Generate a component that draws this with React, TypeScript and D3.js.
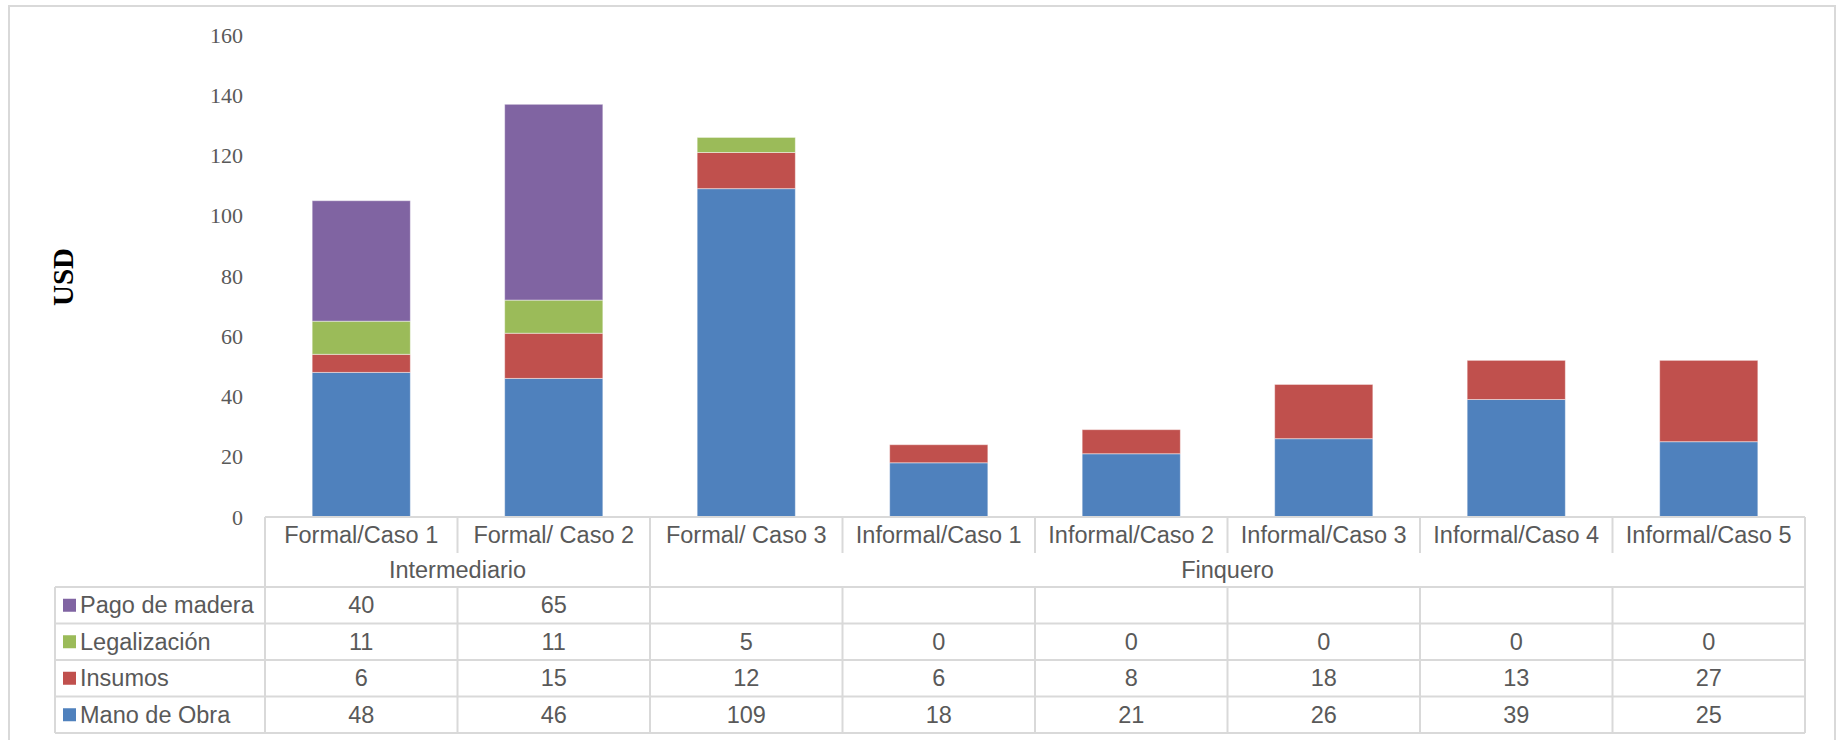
import { useEffect, useRef } from "react";
import * as d3 from "d3";

const CATEGORIES = [
  "Formal/Caso 1",
  "Formal/ Caso 2",
  "Formal/ Caso 3",
  "Informal/Caso 1",
  "Informal/Caso 2",
  "Informal/Caso 3",
  "Informal/Caso 4",
  "Informal/Caso 5",
];

// group label + number of categories it spans
const GROUPS: [string, number][] = [
  ["Intermediario", 2],
  ["Finquero", 6],
];

const MANO_DE_OBRA = [48, 46, 109, 18, 21, 26, 39, 25];
const INSUMOS = [6, 15, 12, 6, 8, 18, 13, 27];
const LEGALIZACION = [11, 11, 5, 0, 0, 0, 0, 0];
const PAGO_MADERA: (number | null)[] = [40, 65, null, null, null, null, null, null];

const Y_TICKS = [0, 20, 40, 60, 80, 100, 120, 140, 160];

// stacking order bottom -> top
const SERIES = [
  { name: "Mano de Obra", values: MANO_DE_OBRA, color: "#4f81bd" },
  { name: "Insumos", values: INSUMOS, color: "#c0504d" },
  { name: "Legalización", values: LEGALIZACION, color: "#9bbb59" },
  { name: "Pago de madera", values: PAGO_MADERA, color: "#8064a2" },
];

const W = 1839;
const H = 740;

export default function App() {
  const svgRef = useRef<SVGSVGElement | null>(null);

  useEffect(() => {
    const svg = svgRef.current;
    if (!svg) return;
    svg.innerHTML = "";
    const root = d3.select(svg).attr("width", W).attr("height", H);

    const GRID = "#d9d9d9";
    const TEXT = "#595959";
    const SANS = "'Liberation Sans', Arial, sans-serif";
    const SERIF = "'Liberation Serif', 'Times New Roman', serif";

    // chart frame
    root.append("rect")
      .attr("x", 9).attr("y", 6)
      .attr("width", 1826).attr("height", 780)
      .attr("fill", "#fff")
      .attr("stroke", GRID).attr("stroke-width", 2);

    const plotLeft = 265, plotRight = 1805;
    const x = d3.scaleBand<string>()
      .domain(CATEGORIES)
      .range([plotLeft, plotRight])
      .padding(0);

    const y = d3.scaleLinear().domain([0, 160]).range([517, 35]);

    // y tick labels
    root.append("g")
      .selectAll("text")
      .data(Y_TICKS)
      .join("text")
      .attr("x", 243)
      .attr("y", (d) => y(d))
      .attr("text-anchor", "end")
      .attr("dominant-baseline", "central")
      .attr("fill", TEXT)
      .style("font-family", SERIF)
      .style("font-size", "22px")
      .text((d) => d);

    // y title
    root.append("text")
      .attr("transform", `translate(63,277) rotate(-90)`)
      .attr("text-anchor", "middle")
      .attr("dominant-baseline", "central")
      .attr("fill", "#000")
      .style("font-family", SERIF)
      .style("font-size", "29px")
      .style("font-weight", "bold")
      .text("USD");

    // stacked bars
    const rows = CATEGORIES.map((c, i) => {
      const r: Record<string, number | string> = { cat: c };
      SERIES.forEach((s) => (r[s.name] = s.values[i] ?? 0));
      return r;
    });
    const stack = d3.stack<Record<string, number | string>>()
      .keys(SERIES.map((s) => s.name))
      .value((d, k) => d[k] as number);
    const layers = stack(rows);
    const barW = x.bandwidth() * 0.51;

    layers.forEach((layer, li) => {
      root.append("g")
        .selectAll("rect")
        .data(layer.filter((d) => d[1] - d[0] > 0))
        .join("rect")
        .attr("x", (d) => x(d.data.cat as string)! + (x.bandwidth() - barW) / 2)
        .attr("width", barW)
        .attr("y", (d) => y(d[1]))
        .attr("height", (d) => y(d[0]) - y(d[1]))
        .attr("fill", SERIES[li].color)
        .attr("stroke", "#fff")
        .attr("stroke-opacity", 0.45)
        .attr("stroke-width", 1);
    });

    // data table
    const catTop = 517, catBot = 553, grpBot = 587;
    const rowH = 36.5;
    const tableLeft = 55;
    const tableRows = [...SERIES].reverse();
    const tableBot = grpBot + rowH * tableRows.length;
    const lines = root.append("g")
      .attr("stroke", GRID).attr("stroke-width", 2).attr("fill", "none");

    const bounds = CATEGORIES.map((c) => x(c)!).concat([plotRight]);

    // category row
    lines.append("line").attr("x1", plotLeft).attr("x2", plotRight)
      .attr("y1", catTop).attr("y2", catTop);
    bounds.forEach((bx) => {
      lines.append("line").attr("x1", bx).attr("x2", bx)
        .attr("y1", catTop).attr("y2", catBot);
    });

    // group row
    let gi = 0;
    const groupBounds = [plotLeft];
    GROUPS.forEach(([, n]) => {
      gi += n;
      groupBounds.push(bounds[gi]);
    });
    groupBounds.forEach((bx) => {
      lines.append("line").attr("x1", bx).attr("x2", bx)
        .attr("y1", catBot).attr("y2", grpBot);
    });

    // value rows
    for (let r = 0; r <= tableRows.length; r++) {
      const yy = grpBot + r * rowH;
      lines.append("line").attr("x1", tableLeft).attr("x2", plotRight)
        .attr("y1", yy).attr("y2", yy);
    }
    [tableLeft, ...bounds].forEach((bx) => {
      lines.append("line").attr("x1", bx).attr("x2", bx)
        .attr("y1", grpBot).attr("y2", tableBot);
    });

    const txt = root.append("g")
      .attr("fill", TEXT)
      .style("font-family", SANS)
      .style("font-size", "23.5px");

    CATEGORIES.forEach((c) => {
      txt.append("text")
        .attr("x", x(c)! + x.bandwidth() / 2)
        .attr("y", (catTop + catBot) / 2)
        .attr("text-anchor", "middle")
        .attr("dominant-baseline", "central")
        .text(c);
    });

    GROUPS.forEach(([g], i) => {
      txt.append("text")
        .attr("x", (groupBounds[i] + groupBounds[i + 1]) / 2)
        .attr("y", (catBot + grpBot) / 2)
        .attr("text-anchor", "middle")
        .attr("dominant-baseline", "central")
        .text(g);
    });

    tableRows.forEach((s, r) => {
      const cy = grpBot + r * rowH + rowH / 2;
      root.append("rect")
        .attr("x", 63).attr("y", cy - 6.5)
        .attr("width", 13).attr("height", 13)
        .attr("fill", s.color);
      txt.append("text")
        .attr("x", 80).attr("y", cy)
        .attr("dominant-baseline", "central")
        .text(s.name);
      s.values.forEach((v, i) => {
        if (v === null) return;
        txt.append("text")
          .attr("x", x(CATEGORIES[i])! + x.bandwidth() / 2)
          .attr("y", cy)
          .attr("text-anchor", "middle")
          .attr("dominant-baseline", "central")
          .text(v);
      });
    });
  }, []);

  return (
    <div style={{ position: "absolute", left: 0, top: 0, width: W, height: H, overflow: "hidden", background: "#fff" }}>
      <svg ref={svgRef} style={{ display: "block" }} />
    </div>
  );
}
